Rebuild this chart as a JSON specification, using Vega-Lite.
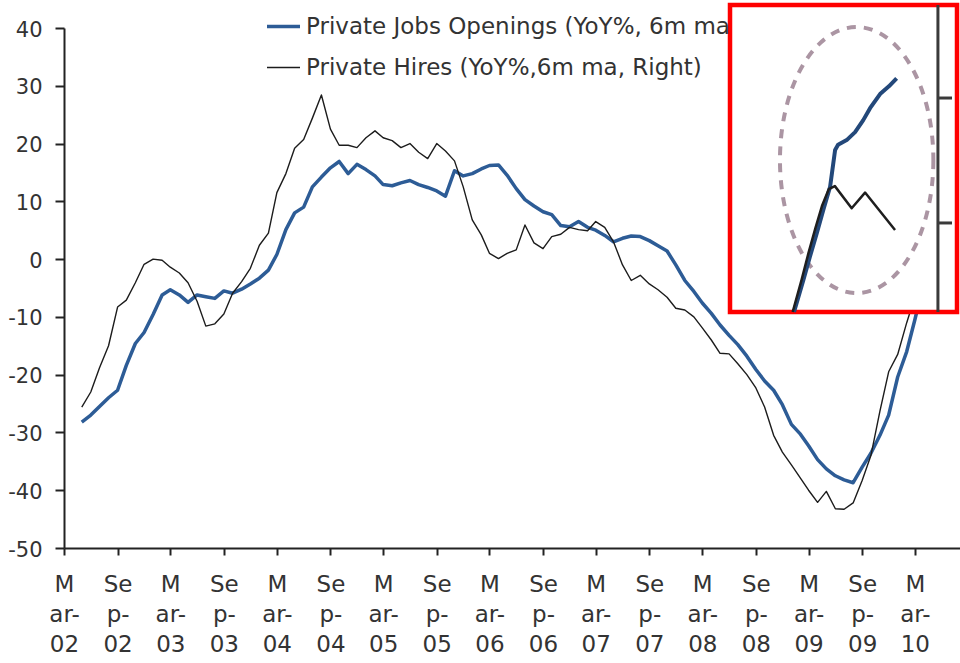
{
  "$schema": "https://vega.github.io/schema/vega-lite/v6.json",
  "width": 896,
  "height": 520,
  "autosize": {"type": "none"},
  "padding": {"left": 64, "top": 28, "right": 0, "bottom": 115},
  "background": "white",
  "config": {"view": {"stroke": null}, "font": "DejaVu Sans"},
  "datasets": {
    "series": [
      {"d":"2002-05-01","o":-28.2,"h":-25.6},{"d":"2002-06-01","o":-27.0,"h":-23.0},{"d":"2002-07-01","o":-25.5,"h":-18.8},{"d":"2002-08-01","o":-24.0,"h":-15.0},
      {"d":"2002-09-01","o":-22.7,"h":-8.3},{"d":"2002-10-01","o":-18.4,"h":-7.1},{"d":"2002-11-01","o":-14.6,"h":-4.1},{"d":"2002-12-01","o":-12.7,"h":-0.9},
      {"d":"2003-01-01","o":-9.6,"h":0.0},{"d":"2003-02-01","o":-6.2,"h":-0.2},{"d":"2003-03-01","o":-5.3,"h":-1.4},{"d":"2003-04-01","o":-6.2,"h":-2.4},
      {"d":"2003-05-01","o":-7.5,"h":-4.1},{"d":"2003-06-01","o":-6.2,"h":-7.3},{"d":"2003-07-01","o":-6.5,"h":-11.6},{"d":"2003-08-01","o":-6.8,"h":-11.2},
      {"d":"2003-09-01","o":-5.5,"h":-9.5},{"d":"2003-10-01","o":-5.9,"h":-5.9},{"d":"2003-11-01","o":-5.2,"h":-3.9},{"d":"2003-12-01","o":-4.3,"h":-1.6},
      {"d":"2004-01-01","o":-3.3,"h":2.4},{"d":"2004-02-01","o":-1.9,"h":4.5},{"d":"2004-03-01","o":0.8,"h":11.5},{"d":"2004-04-01","o":5.1,"h":14.8},
      {"d":"2004-05-01","o":8.0,"h":19.2},{"d":"2004-06-01","o":9.0,"h":20.7},{"d":"2004-07-01","o":12.5,"h":24.4},{"d":"2004-08-01","o":14.2,"h":28.4},
      {"d":"2004-09-01","o":15.8,"h":22.5},{"d":"2004-10-01","o":16.9,"h":19.7},{"d":"2004-11-01","o":14.8,"h":19.7},{"d":"2004-12-01","o":16.4,"h":19.3},
      {"d":"2005-01-01","o":15.5,"h":21.0},{"d":"2005-02-01","o":14.4,"h":22.2},{"d":"2005-03-01","o":12.9,"h":21.0},{"d":"2005-04-01","o":12.7,"h":20.5},
      {"d":"2005-05-01","o":13.2,"h":19.3},{"d":"2005-06-01","o":13.6,"h":20.0},{"d":"2005-07-01","o":12.9,"h":18.5},{"d":"2005-08-01","o":12.4,"h":17.4},
      {"d":"2005-09-01","o":11.8,"h":20.0},{"d":"2005-10-01","o":10.9,"h":18.7},{"d":"2005-11-01","o":15.3,"h":17.0},{"d":"2005-12-01","o":14.4,"h":12.5},
      {"d":"2006-01-01","o":14.8,"h":6.8},{"d":"2006-02-01","o":15.6,"h":4.2},{"d":"2006-03-01","o":16.2,"h":1.0},{"d":"2006-04-01","o":16.3,"h":0.1},
      {"d":"2006-05-01","o":14.5,"h":1.0},{"d":"2006-06-01","o":12.2,"h":1.6},{"d":"2006-07-01","o":10.3,"h":5.9},{"d":"2006-08-01","o":9.2,"h":2.8},
      {"d":"2006-09-01","o":8.2,"h":1.8},{"d":"2006-10-01","o":7.7,"h":3.9},{"d":"2006-11-01","o":5.8,"h":4.3},{"d":"2006-12-01","o":5.6,"h":5.5},
      {"d":"2007-01-01","o":6.5,"h":5.1},{"d":"2007-02-01","o":5.5,"h":4.9},{"d":"2007-03-01","o":5.0,"h":6.5},{"d":"2007-04-01","o":4.1,"h":5.5},
      {"d":"2007-05-01","o":3.0,"h":3.0},{"d":"2007-06-01","o":3.6,"h":-1.0},{"d":"2007-07-01","o":4.0,"h":-3.7},{"d":"2007-08-01","o":3.9,"h":-2.8},
      {"d":"2007-09-01","o":3.2,"h":-4.3},{"d":"2007-10-01","o":2.3,"h":-5.3},{"d":"2007-11-01","o":1.4,"h":-6.6},{"d":"2007-12-01","o":-1.0,"h":-8.5},
      {"d":"2008-01-01","o":-3.7,"h":-8.8},{"d":"2008-02-01","o":-5.6,"h":-10.0},{"d":"2008-03-01","o":-7.6,"h":-11.9},{"d":"2008-04-01","o":-9.4,"h":-14.0},
      {"d":"2008-05-01","o":-11.4,"h":-16.3},{"d":"2008-06-01","o":-13.2,"h":-16.4},{"d":"2008-07-01","o":-14.8,"h":-18.1},{"d":"2008-08-01","o":-16.8,"h":-20.0},
      {"d":"2008-09-01","o":-19.1,"h":-22.3},{"d":"2008-10-01","o":-21.1,"h":-25.6},{"d":"2008-11-01","o":-22.7,"h":-30.5},{"d":"2008-12-01","o":-25.2,"h":-33.4},
      {"d":"2009-01-01","o":-28.6,"h":-35.6},{"d":"2009-02-01","o":-30.3,"h":-37.9},{"d":"2009-03-01","o":-32.3,"h":-40.0},{"d":"2009-04-01","o":-34.7,"h":-42.1},
      {"d":"2009-05-01","o":-36.3,"h":-40.2},{"d":"2009-06-01","o":-37.5,"h":-43.2},{"d":"2009-07-01","o":-38.2,"h":-43.3},{"d":"2009-08-01","o":-38.7,"h":-42.2},
      {"d":"2009-09-01","o":-36.0,"h":-38.3},{"d":"2009-10-01","o":-33.6,"h":-34.0},{"d":"2009-11-01","o":-30.5,"h":-26.3},{"d":"2009-12-01","o":-27.0,"h":-19.5},
      {"d":"2010-01-01","o":-20.4,"h":-16.5},{"d":"2010-02-01","o":-16.0,"h":-11.0},{"d":"2010-03-01","o":-10.5,"h":-6.5},{"d":"2010-04-01","o":-4.0,"h":-2.0}
    ],
    "box": [{"u0": 0, "u1": 1, "v0": 0, "v1": 1}],
    "insetAxis": [{"u": 0.916, "v0": 0, "v1": 1}],
    "insetTicks": [{"u0": 0.916, "u1": 0.978, "v": 0.697}, {"u0": 0.916, "u1": 0.978, "v": 0.290}],
    "ellipse": [{"u": 0.558, "v": 0.495}],
    "insetLines": [
      {"s":"o","u":0.282,"v":0.0},{"s":"o","u":0.323,"v":0.104},{"s":"o","u":0.352,"v":0.180},{"s":"o","u":0.382,"v":0.256},
      {"s":"o","u":0.411,"v":0.332},{"s":"o","u":0.441,"v":0.408},{"s":"o","u":0.463,"v":0.528},{"s":"o","u":0.476,"v":0.545},
      {"s":"o","u":0.514,"v":0.560},{"s":"o","u":0.551,"v":0.586},{"s":"o","u":0.587,"v":0.625},{"s":"o","u":0.617,"v":0.664},
      {"s":"o","u":0.661,"v":0.710},{"s":"o","u":0.700,"v":0.735},{"s":"o","u":0.734,"v":0.761},
      {"s":"h","u":0.276,"v":0.0},{"s":"h","u":0.315,"v":0.104},{"s":"h","u":0.345,"v":0.190},{"s":"h","u":0.375,"v":0.270},
      {"s":"h","u":0.405,"v":0.345},{"s":"h","u":0.435,"v":0.400},{"s":"h","u":0.462,"v":0.410},{"s":"h","u":0.536,"v":0.338},
      {"s":"h","u":0.595,"v":0.389},{"s":"h","u":0.727,"v":0.267}
    ]
  },
  "layer": [
    {
      "layer": [
        {
          "mark": {"type": "rule", "color": "#8a8a8a", "strokeWidth": 1.5},
          "encoding": {
            "y": {"datum": 0, "type": "quantitative", "scale": {"domain": [-50, 40], "nice": false, "zero": false}}
          }
        },
        {
          "data": {"name": "series"},
          "transform": [{"fold": ["o", "h"], "as": ["series", "value"]}],
          "mark": {"type": "line", "strokeJoin": "round"},
          "encoding": {
            "x": {
              "field": "d", "type": "temporal",
              "scale": {"type": "utc", "domain": [{"year": 2002, "month": "mar", "date": 1, "utc": true}, {"year": 2010, "month": "aug", "date": 3, "utc": true}]},
              "axis": {
                "title": null, "grid": false,
                "values": [
                  {"year": 2002, "month": "mar", "date": 1, "utc": true}, {"year": 2002, "month": "sep", "date": 1, "utc": true},
                  {"year": 2003, "month": "mar", "date": 1, "utc": true}, {"year": 2003, "month": "sep", "date": 1, "utc": true},
                  {"year": 2004, "month": "mar", "date": 1, "utc": true}, {"year": 2004, "month": "sep", "date": 1, "utc": true},
                  {"year": 2005, "month": "mar", "date": 1, "utc": true}, {"year": 2005, "month": "sep", "date": 1, "utc": true},
                  {"year": 2006, "month": "mar", "date": 1, "utc": true}, {"year": 2006, "month": "sep", "date": 1, "utc": true},
                  {"year": 2007, "month": "mar", "date": 1, "utc": true}, {"year": 2007, "month": "sep", "date": 1, "utc": true},
                  {"year": 2008, "month": "mar", "date": 1, "utc": true}, {"year": 2008, "month": "sep", "date": 1, "utc": true},
                  {"year": 2009, "month": "mar", "date": 1, "utc": true}, {"year": 2009, "month": "sep", "date": 1, "utc": true},
                  {"year": 2010, "month": "mar", "date": 1, "utc": true}
                ],
                "labelExpr": "utcFormat(datum.value, '%m') == '03' ? ['M', 'ar-', utcFormat(datum.value, '%y')] : ['Se', 'p-', utcFormat(datum.value, '%y')]",
                "labelFont": "DejaVu Sans", "labelFontSize": 23, "labelLineHeight": 30, "labelColor": "#333333",
                "labelPadding": 18, "labelBaseline": "top", "labelFlush": false, "labelOverlap": false, "labelBound": false,
                "tickSize": 7, "tickWidth": 2, "tickColor": "#222222", "domainWidth": 2, "domainColor": "#222222"
              }
            },
            "y": {
              "field": "value", "type": "quantitative",
              "scale": {"domain": [-50, 40], "nice": false, "zero": false},
              "axis": {
                "title": null, "grid": false, "values": [-50, -40, -30, -20, -10, 0, 10, 20, 30, 40],
                "labelExpr": "'' + datum.value",
                "labelFont": "DejaVu Sans", "labelFontSize": 21, "labelColor": "#333333", "labelPadding": 13, "labelOffset": 2,
                "tickSize": 9, "tickWidth": 2, "tickColor": "#222222", "domainWidth": 2, "domainColor": "#222222"
              }
            },
            "color": {
              "field": "series", "type": "nominal",
              "scale": {"domain": ["o", "h"], "range": ["#2d5c96", "#1c1c1c"]},
              "legend": {
                "orient": "none", "legendX": 201, "legendY": -20, "title": null, "padding": 0,
                "symbolType": "stroke", "symbolSize": 1089, "labelFont": "DejaVu Sans", "labelFontSize": 23,
                "labelColor": "#333333", "labelOffset": 4, "rowPadding": 11, "labelLimit": 700,
                "labelExpr": "datum.value == 'o' ? 'Private Jobs Openings (YoY%, 6m ma' : 'Private Hires (YoY%,6m ma, Right)'"
              }
            },
            "strokeWidth": {
              "field": "series", "type": "nominal",
              "scale": {"domain": ["o", "h"], "range": [3.5, 1.4]},
              "legend": {
                "orient": "none", "legendX": 201, "legendY": -20, "title": null, "padding": 0,
                "symbolType": "stroke", "symbolSize": 1089, "labelFont": "DejaVu Sans", "labelFontSize": 23,
                "labelColor": "#333333", "labelOffset": 4, "rowPadding": 11, "labelLimit": 700,
                "labelExpr": "datum.value == 'o' ? 'Private Jobs Openings (YoY%, 6m ma' : 'Private Hires (YoY%,6m ma, Right)'"
              }
            }
          }
        }
      ]
    },
    {
      "layer": [
        {
          "data": {"name": "box"},
          "mark": {"type": "rect", "fill": "white", "stroke": "#ff0000", "strokeWidth": 4.5},
          "encoding": {
            "x": {"field": "u0", "type": "quantitative", "scale": {"domain": [-2.9339, 1.0132], "nice": false, "zero": false}, "axis": null},
            "x2": {"field": "u1"},
            "y": {"field": "v0", "type": "quantitative", "scale": {"domain": [-0.76873, 0.92508], "nice": false, "zero": false}, "axis": null},
            "y2": {"field": "v1"}
          }
        },
        {
          "data": {"name": "insetAxis"},
          "mark": {"type": "rule", "color": "#3a3a3a", "strokeWidth": 3},
          "encoding": {
            "x": {"field": "u", "type": "quantitative", "scale": {"domain": [-2.9339, 1.0132], "nice": false, "zero": false}, "axis": null},
            "y": {"field": "v0", "type": "quantitative", "scale": {"domain": [-0.76873, 0.92508], "nice": false, "zero": false}, "axis": null},
            "y2": {"field": "v1"}
          }
        },
        {
          "data": {"name": "insetTicks"},
          "mark": {"type": "rule", "color": "#3a3a3a", "strokeWidth": 3},
          "encoding": {
            "x": {"field": "u0", "type": "quantitative", "scale": {"domain": [-2.9339, 1.0132], "nice": false, "zero": false}, "axis": null},
            "x2": {"field": "u1"},
            "y": {"field": "v", "type": "quantitative", "scale": {"domain": [-0.76873, 0.92508], "nice": false, "zero": false}, "axis": null}
          }
        },
        {
          "data": {"name": "ellipse"},
          "mark": {
            "type": "point", "filled": false, "color": "#ab95a3", "strokeWidth": 4, "strokeDash": [9, 8], "opacity": 1,
            "size": 70756,
            "shape": "M0.5767,0 C0.5767,0.5523 0.3185,1 0,1 C-0.3185,1 -0.5767,0.5523 -0.5767,0 C-0.5767,-0.5523 -0.3185,-1 0,-1 C0.3185,-1 0.5767,-0.5523 0.5767,0 Z"
          },
          "encoding": {
            "x": {"field": "u", "type": "quantitative", "scale": {"domain": [-2.9339, 1.0132], "nice": false, "zero": false}, "axis": null},
            "y": {"field": "v", "type": "quantitative", "scale": {"domain": [-0.76873, 0.92508], "nice": false, "zero": false}, "axis": null}
          }
        },
        {
          "data": {"name": "insetLines"},
          "transform": [{"filter": {"field": "s", "equal": "o"}}],
          "mark": {"type": "line", "color": "#23487a", "strokeWidth": 4, "strokeJoin": "round"},
          "encoding": {
            "x": {"field": "u", "type": "quantitative", "scale": {"domain": [-2.9339, 1.0132], "nice": false, "zero": false}, "axis": null},
            "y": {"field": "v", "type": "quantitative", "scale": {"domain": [-0.76873, 0.92508], "nice": false, "zero": false}, "axis": null}
          }
        },
        {
          "data": {"name": "insetLines"},
          "transform": [{"filter": {"field": "s", "equal": "h"}}],
          "mark": {"type": "line", "color": "#1e1e1e", "strokeWidth": 2.5, "strokeJoin": "round"},
          "encoding": {
            "x": {"field": "u", "type": "quantitative", "scale": {"domain": [-2.9339, 1.0132], "nice": false, "zero": false}, "axis": null},
            "y": {"field": "v", "type": "quantitative", "scale": {"domain": [-0.76873, 0.92508], "nice": false, "zero": false}, "axis": null}
          }
        }
      ]
    }
  ],
  "resolve": {"scale": {"x": "independent", "y": "independent"}}
}
